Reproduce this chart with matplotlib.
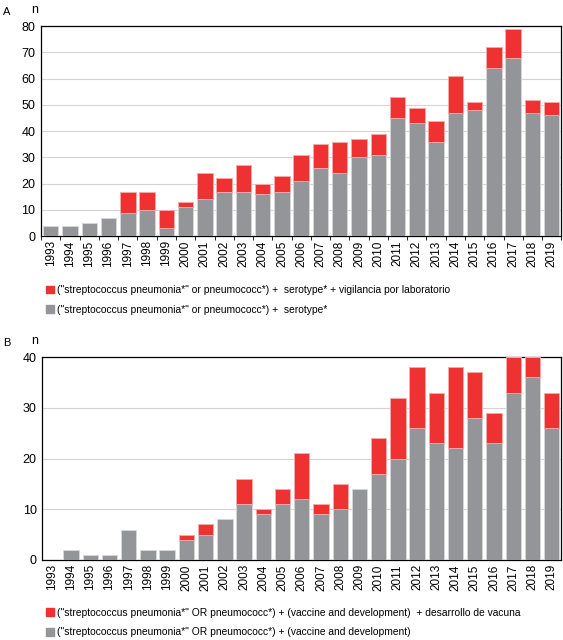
import numpy as np
import matplotlib
matplotlib.use("Agg")
from matplotlib import pyplot as plt
from matplotlib.patches import Patch

plt.rcParams['font.family'] = ['Liberation Sans Narrow', 'Liberation Sans', 'DejaVu Sans']

years = [str(y) for y in range(1993, 2020)]

# panel A
a_serotype = [4, 4, 5, 7, 9, 10, 3, 11, 14, 17, 17, 16, 17, 21, 26, 24, 30, 31,
              45, 43, 36, 47, 48, 64, 68, 47, 46]
a_total = [4, 4, 5, 7, 17, 17, 10, 13, 24, 22, 27, 20, 23, 31, 35, 36, 37, 39,
           53, 49, 44, 61, 51, 72, 79, 52, 51]
# panel B
b_vaccine = [0, 2, 1, 1, 6, 2, 2, 4, 5, 8, 11, 9, 11, 12, 9, 10, 14, 17,
             20, 26, 23, 22, 28, 23, 33, 36, 26]
b_total = [0, 2, 1, 1, 6, 2, 2, 5, 7, 8, 16, 10, 14, 21, 11, 15, 14, 24,
           32, 38, 33, 38, 37, 29, 40, 40, 33]

a_labels = ['("streptococcus pneumonia*" or pneumococc*) +  serotype* + vigilancia por laboratorio',
            '("streptococcus pneumonia*" or pneumococc*) +  serotype*']
b_labels = ['("streptococcus pneumonia*" OR pneumococc*) + (vaccine and development)  + desarrollo de vacuna',
            '("streptococcus pneumonia*" OR pneumococc*) + (vaccine and development)']

GRAY = '#939598'
RED = '#ee3131'

fig = plt.figure(figsize=(5.63, 6.4), dpi=100)


def panel(rect, base, total, ymax, letter, labels, leg_y, minor):
    ax = fig.add_axes(rect)
    x = np.arange(len(years))
    base = np.array(base)
    extra = np.array(total) - base
    g = base > 0
    ax.bar(x[g], base[g], width=0.8, color=GRAY, edgecolor='#d6d6d8', linewidth=0.7, zorder=3)
    r = extra > 0
    ax.bar(x[r], extra[r], bottom=base[r], width=0.8, color=RED, edgecolor='#f7a8a8',
           linewidth=0.7, zorder=3)
    ax.set_xlim(-0.5, len(years) - 0.5)
    ax.set_ylim(0, ymax)
    ax.set_yticks(np.arange(0, ymax + 1, 10))
    ax.yaxis.grid(True, color='#d4d4d4', linewidth=0.8, zorder=0)
    ax.set_xticks(x)
    ax.set_xticklabels(years, rotation=90, fontsize=8.5)
    if minor:
        ax.set_xticks(np.arange(-0.5, len(years), 1), minor=True)
        ax.tick_params(axis='x', which='minor', length=3, width=0.6)
    ax.tick_params(axis='x', which='major', length=0, pad=3)
    ax.tick_params(axis='y', length=0, labelsize=9, pad=4)
    for s in ax.spines.values():
        s.set_linewidth(0.9)
    top = rect[1] + rect[3]
    fig.text(0.005, top + 0.022, letter, fontsize=8, va='center')
    fig.text(0.056, top + 0.025, 'n', fontsize=9, va='center')
    handles = [Patch(color=RED), Patch(color=GRAY)]
    fig.legend(handles, labels, loc='upper left', bbox_to_anchor=(0.075, leg_y),
               frameon=False, fontsize=7.4, handlelength=0.75, handleheight=0.75,
               handletextpad=0.25, labelspacing=0.95, borderaxespad=0)
    return ax


panel([0.073, 0.631, 0.924, 0.328], a_serotype, a_total, 80, 'A', a_labels, 0.561, True)
panel([0.075, 0.125, 0.922, 0.317], b_vaccine, b_total, 40, 'B', b_labels, 0.057, False)

fig.savefig('out.png', dpi=100)
